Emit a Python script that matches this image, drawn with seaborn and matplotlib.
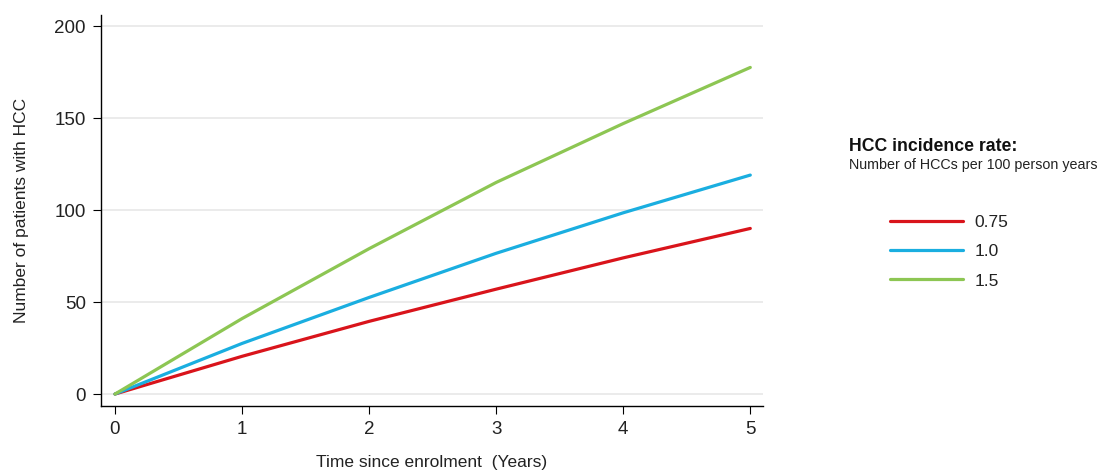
import pandas as pd
import matplotlib.pyplot as plt
import seaborn as sns

# Data
years = [0, 1, 2, 3, 4, 5]
rate_075 = [0, 20.5, 39.5, 57, 74, 90]
rate_10 = [0, 27.5, 52.5, 76.5, 98.5, 119]
rate_15 = [0, 41, 79, 115, 147, 177.5]
rate_labels = ["0.75", "1.0", "1.5"]
y_ticks = [0, 50, 100, 150, 200]

df = pd.DataFrame({
    "year": years * 3,
    "patients": rate_075 + rate_10 + rate_15,
    "rate": [rate_labels[0]] * 6 + [rate_labels[1]] * 6 + [rate_labels[2]] * 6,
})

sns.set_style("white")
plt.rcParams['font.family'] = ['Liberation Sans', 'DejaVu Sans']

fig = plt.figure(figsize=(10.99, 4.71), dpi=100)
ax = fig.add_axes([101 / 1099, 65 / 471, 662 / 1099, 391 / 471])

palette = {"0.75": "#d9141b", "1.0": "#1aaee0", "1.5": "#8dc653"}
sns.lineplot(data=df, x="year", y="patients", hue="rate", palette=palette,
             linewidth=2.3, ax=ax, legend=False)

ax.set_xlim(-0.11, 5.1)
ax.set_ylim(-6.5, 206)
ax.set_xticks(years)
ax.set_yticks(y_ticks)
ax.yaxis.grid(True, color="#e8e8e8", linewidth=1.2)
ax.set_axisbelow(True)
for s in ["top", "right"]:
    ax.spines[s].set_visible(False)
for s in ["left", "bottom"]:
    ax.spines[s].set_color("black")
    ax.spines[s].set_linewidth(1.0)
ax.tick_params(axis="both", bottom=True, left=True, direction="out", length=6, width=0.8,
               color="black", labelsize=13.5, labelcolor="#222222", pad=5)
ax.set_xlabel("Time since enrolment  (Years)", fontsize=12.5, color="#222222", labelpad=12)
ax.set_ylabel("Number of patients with HCC", fontsize=12.5, color="#222222", labelpad=18)

# Legend
handles = [plt.Line2D([], [], color=palette[r], linewidth=2.3) for r in rate_labels]
fig.legend(handles, rate_labels, loc="upper left", bbox_to_anchor=(874 / 1099, 1 - 199 / 471),
           frameon=False, fontsize=12.5, handlelength=4.2, labelspacing=0.82,
           handletextpad=0.7, labelcolor="#222222")
fig.text(849 / 1099, 1 - 147 / 471, "HCC incidence rate:", fontsize=12.7, fontweight="bold",
         va="center", ha="left", color="#111111")
fig.text(849 / 1099, 1 - 165 / 471, "Number of HCCs per 100 person years", fontsize=10.3,
         va="center", ha="left", color="#222222")

fig.savefig("out.png", dpi=100)
